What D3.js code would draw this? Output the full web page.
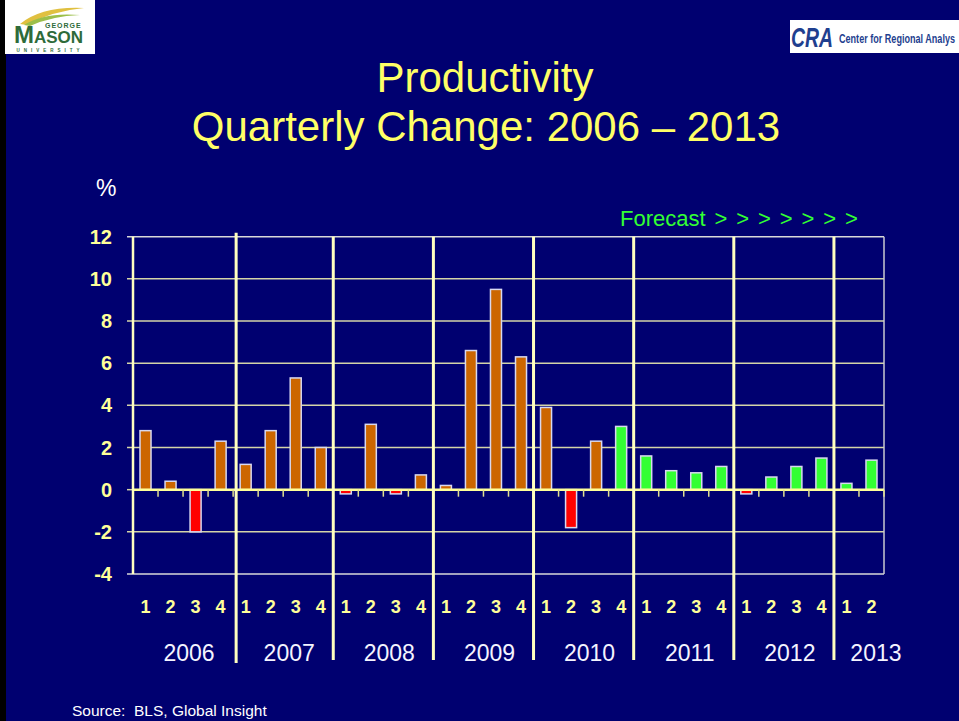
<!DOCTYPE html>
<html lang="en">

<head>
    <meta charset="UTF-8">
    <title>Productivity Quarterly Change</title>
    <script src="https://d3js.org/d3.v7.min.js"></script>
    <style>
        body {
            margin: 0;
            background-color: #000;
        }

        svg {
            display: block;
        }

        text {
            font-family: Arial, "Liberation Sans", sans-serif;
        }
    </style>
</head>

<body>

    <svg width="959" height="721" id="chart"></svg>

    <script>
        // data
        const years = ["2006", "2007", "2008", "2009", "2010", "2011", "2012", "2013"];
        const quartersPerYear = [4, 4, 4, 4, 4, 4, 4, 2];
        const values = [
            2.8, 0.4, -2.0, 2.3,
            1.2, 2.8, 5.3, 2.0,
            -0.2, 3.1, -0.2, 0.7,
            0.2, 6.6, 9.5, 6.3,
            3.9, -1.8, 2.3, 3.0,
            1.6, 0.9, 0.8, 1.1,
            -0.2, 0.6, 1.1, 1.5,
            0.3, 1.4
        ];
        const forecastStart = 19;   // 2010 Q4 onward is forecast
        const yTicks = [-4, -2, 0, 2, 4, 6, 8, 10, 12];

        // build quarter list from the arrays above
        const quarters = [];
        years.forEach((yr, i) => {
            for (let q = 1; q <= quartersPerYear[i]; q++) {
                quarters.push({ year: yr, q: q, idx: quarters.length });
            }
        });

        const svg = d3.select("#chart");

        // slide background
        svg.append("rect").attr("width", 959).attr("height", 721).attr("fill", "#000");
        svg.append("rect").attr("x", 6).attr("y", 0).attr("width", 953).attr("height", 721).attr("fill", "#000070");

        const plotLeft = 133, plotRight = 884, plotTop = 236.7, plotBottom = 574;

        const x = d3.scaleBand()
            .domain(quarters.map(d => d.idx))
            .range([plotLeft, plotRight])
            .paddingInner(0.56)
            .paddingOuter(0.28);

        const y = d3.scaleLinear()
            .domain([-4, 12])
            .range([plotBottom, plotTop]);

        const step = x.step();

        // gridlines (with little tick stubs on the left)
        svg.append("g")
            .selectAll("line")
            .data(yTicks.filter(t => t !== 0))
            .join("line")
            .attr("x1", plotLeft - 6)
            .attr("x2", plotRight)
            .attr("y1", d => y(d))
            .attr("y2", d => y(d))
            .attr("stroke", d => (d === 12 || d === -4) ? "#d8d8d8" : "#d4d4a8")
            .attr("stroke-width", 1.5);

        svg.append("line")
            .attr("x1", plotLeft - 6).attr("x2", plotLeft)
            .attr("y1", y(0)).attr("y2", y(0))
            .attr("stroke", "#d4d4a8").attr("stroke-width", 1.5);

        // right border
        svg.append("line")
            .attr("x1", plotRight).attr("x2", plotRight)
            .attr("y1", plotTop).attr("y2", plotBottom)
            .attr("stroke", "#c8c8d0").attr("stroke-width", 1.5);

        // y tick labels
        svg.append("g")
            .selectAll("text")
            .data(yTicks)
            .join("text")
            .attr("x", 112)
            .attr("y", d => y(d))
            .attr("dy", "0.35em")
            .attr("text-anchor", "end")
            .attr("font-size", 20)
            .attr("font-weight", "bold")
            .attr("fill", "#ffff99")
            .text(d => d);

        // bars
        function barColor(d, i) {
            if (d < 0) return "#ff0000";
            if (i >= forecastStart) return "#33ff33";
            return "#cc6600";
        }

        svg.append("g")
            .selectAll("rect")
            .data(values)
            .join("rect")
            .attr("x", (d, i) => x(i))
            .attr("width", x.bandwidth())
            .attr("y", d => y(Math.max(0, d)))
            .attr("height", d => Math.abs(y(d) - y(0)))
            .attr("fill", barColor)
            .attr("stroke", "#d8d8f0")
            .attr("stroke-width", 1.5);

        // zero line + downward ticks at every quarter boundary
        svg.append("line")
            .attr("x1", plotLeft).attr("x2", plotRight)
            .attr("y1", y(0)).attr("y2", y(0))
            .attr("stroke", "#ffff99").attr("stroke-width", 2.5);

        svg.append("g")
            .selectAll("line")
            .data(d3.range(1, quarters.length + 1))
            .join("line")
            .attr("x1", i => plotLeft + i * step)
            .attr("x2", i => plotLeft + i * step)
            .attr("y1", y(0))
            .attr("y2", y(0) + 7)
            .attr("stroke", "#e0e090")
            .attr("stroke-width", 1.5);

        // y axis line
        svg.append("line")
            .attr("x1", plotLeft).attr("x2", plotLeft)
            .attr("y1", plotTop).attr("y2", plotBottom)
            .attr("stroke", "#ffffc0").attr("stroke-width", 2.5);

        // year separators
        let start = 0;
        const yearPos = [];
        years.forEach((yr, i) => {
            yearPos.push({ year: yr, start: start, n: quartersPerYear[i] });
            start += quartersPerYear[i];
        });

        svg.append("g")
            .selectAll("line")
            .data(yearPos.slice(1))
            .join("line")
            .attr("x1", (d, i) => plotLeft + d.start * step + (i === 0 ? 3 : 0))
            .attr("x2", (d, i) => plotLeft + d.start * step + (i === 0 ? 3 : 0))
            .attr("y1", (d, i) => i === 0 ? plotTop - 4 : plotTop)
            .attr("y2", (d, i) => i === 0 ? 663 : 660)
            .attr("stroke", "#ffffc0")
            .attr("stroke-width", 3);

        // quarter labels
        svg.append("g")
            .selectAll("text")
            .data(quarters)
            .join("text")
            .attr("x", d => x(d.idx) + x.bandwidth() / 2)
            .attr("y", 613)
            .attr("text-anchor", "middle")
            .attr("font-size", 18)
            .attr("font-weight", "bold")
            .attr("fill", "#ffff99")
            .text(d => d.q);

        // year labels
        svg.append("g")
            .selectAll("text")
            .data(yearPos)
            .join("text")
            .attr("x", d => d.n === 4 ? plotLeft + (d.start + 2) * step + 6 : plotLeft + d.start * step + 42)
            .attr("y", 661)
            .attr("text-anchor", "middle")
            .attr("font-size", 23)
            .attr("fill", "#f4f4ff")
            .text(d => d.year);

        // titles and notes
        svg.append("text")
            .attr("x", 485).attr("y", 92)
            .attr("text-anchor", "middle")
            .attr("font-size", 42)
            .attr("fill", "#ffff66")
            .text("Productivity");

        svg.append("text")
            .attr("x", 486).attr("y", 141)
            .attr("text-anchor", "middle")
            .attr("font-size", 42)
            .attr("fill", "#ffff66")
            .text("Quarterly Change: 2006 \u2013 2013");

        svg.append("text")
            .attr("x", 96).attr("y", 196)
            .attr("font-size", 23)
            .attr("fill", "#ffffff")
            .text("%");

        svg.append("text")
            .attr("x", 620).attr("y", 226)
            .attr("font-size", 22)
            .attr("word-spacing", 2.8)
            .attr("fill", "#33ff33")
            .text("Forecast > > > > > > >");

        svg.append("text")
            .attr("x", 72).attr("y", 716)
            .attr("font-size", 15.5)
            .style("white-space", "pre")
            .attr("fill", "#ffffff")
            .text("Source:  BLS, Global Insight");

        // GMU logo (rough)
        svg.append("rect").attr("x", 5).attr("y", 0).attr("width", 90).attr("height", 54).attr("fill", "#ffffff");
        svg.append("path")
            .attr("d", "M20,24 Q42,6 84,8 Q52,11 27,25 Z")
            .attr("fill", "#e0c040");
        svg.append("path")
            .attr("d", "M24,25 Q44,12 80,15 Q52,16 30,26 Z")
            .attr("fill", "#9cbf4a");
        svg.append("text")
            .attr("x", 45).attr("y", 28)
            .attr("font-size", 7).attr("font-weight", "bold")
            .attr("letter-spacing", 1)
            .attr("fill", "#2e6b3a")
            .text("GEORGE");
        const mason = svg.append("text")
            .attr("x", 14).attr("y", 43)
            .attr("font-weight", "bold")
            .attr("font-family", "'Liberation Serif', 'DejaVu Serif', serif")
            .attr("fill", "#2e6b3a");
        mason.append("tspan").attr("font-size", 24).text("M");
        mason.append("tspan").attr("font-size", 17).text("ASON");
        svg.append("text")
            .attr("x", 50).attr("y", 51.5)
            .attr("text-anchor", "middle")
            .attr("font-size", 4.5).attr("font-weight", "bold")
            .attr("letter-spacing", 4)
            .attr("fill", "#2e6b3a")
            .text("UNIVERSITY");

        // CRA logo (rough)
        svg.append("rect").attr("x", 790).attr("y", 20).attr("width", 169).attr("height", 33).attr("fill", "#ffffff");
        svg.append("text")
            .attr("x", 791).attr("y", 47)
            .attr("font-size", 28).attr("font-weight", "bold")
            .attr("font-style", "italic")
            .attr("font-family", "'Liberation Serif', serif")
            .attr("textLength", 42)
            .attr("lengthAdjust", "spacingAndGlyphs")
            .attr("fill", "#1f3f8f")
            .text("CRA");
        svg.append("text")
            .attr("x", 839).attr("y", 43)
            .attr("font-size", 12).attr("font-weight", "bold")
            .attr("textLength", 116)
            .attr("lengthAdjust", "spacingAndGlyphs")
            .attr("fill", "#1f3f8f")
            .text("Center for Regional Analys");
    </script>

</body>

</html>
